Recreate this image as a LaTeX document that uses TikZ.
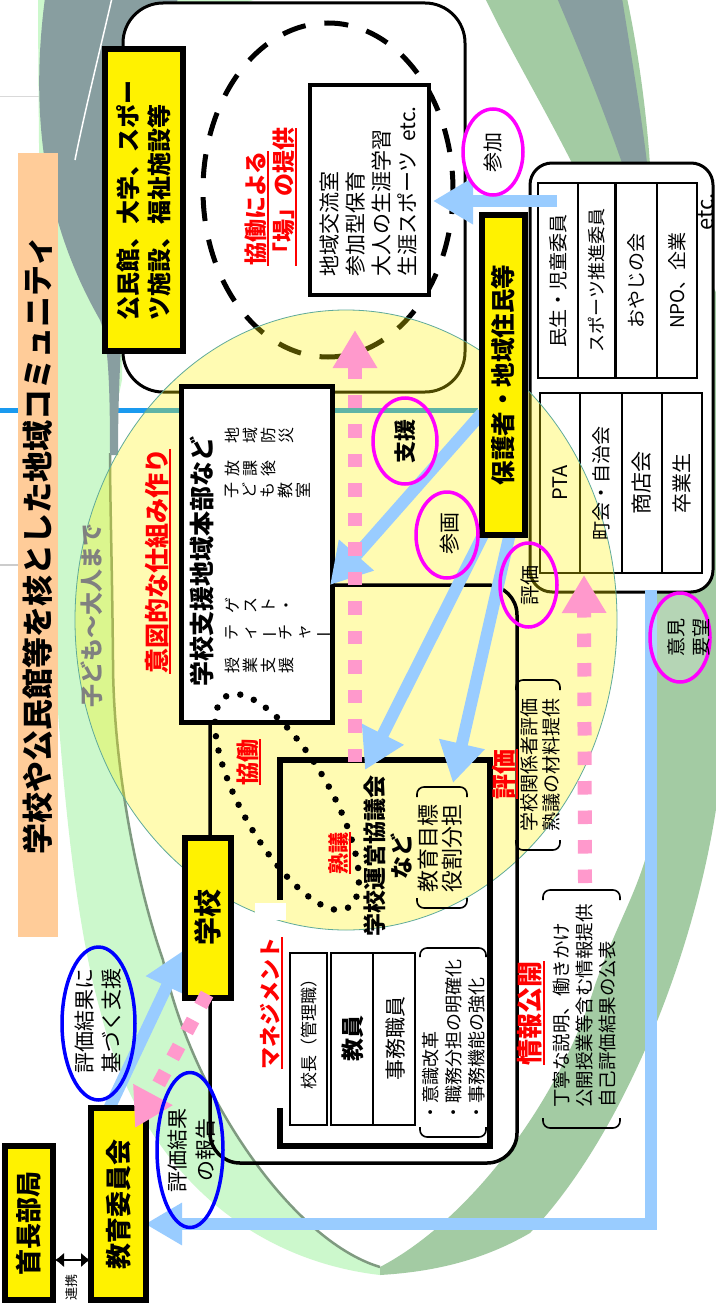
\documentclass[tikz,border=0pt]{standalone}
\usepackage{graphicx}
\usepackage{fontspec}
\setmainfont{Noto Sans CJK JP}
\usetikzlibrary{arrows.meta}
\definecolor{lgreen}{HTML}{CCF8CC}
\definecolor{dgreen}{HTML}{A3CBA3}
\definecolor{bgray}{HTML}{889EA0}
\definecolor{edgegray}{HTML}{7F9A80}
\definecolor{ltblue}{HTML}{99CCFF}
\definecolor{pinkc}{HTML}{FF99CC}
\definecolor{orangebg}{HTML}{FFCC99}
\definecolor{magc}{HTML}{FF00FF}
\definecolor{lineblue}{HTML}{1A9AEF}
\definecolor{circedge}{HTML}{5FAA9A}
\newcommand{\fsz}[2]{\fontsize{#1pt}{#2pt}\selectfont}
\newsavebox{\ulbox}
\newcommand{\ulx}[1]{\sbox{\ulbox}{#1}\leavevmode\rlap{\rule[-5pt]{\wd\ulbox}{2pt}}\usebox{\ulbox}}
\newcommand{\vch}{\rotatebox[origin=c]{90}{ー}}
\tikzset{
  T/.style={rotate=90, inner sep=0pt, align=center},
  ybx/.style={T, draw=black, line width=6pt, fill=yellow},
  magel/.style={draw=magc, line width=3.5pt},
  blel/.style={draw=blue, line width=3.5pt},
  barrow/.style={draw=ltblue, line width=12pt, -{Triangle[length=40pt,width=44pt]}},
  parrow/.style={draw=pinkc, line width=14pt, dash pattern=on 13.5pt off 16pt, -{Triangle[length=38pt,width=42pt]}},
  brk/.style={line width=1.6pt, rounded corners=7pt},
  cell/.style={draw=black, line width=2pt},
  vcol/.style={rotate=90, inner sep=0pt, anchor=north, align=center, font=\fsz{16}{18}},
}
\begin{document}
\begin{tikzpicture}[x=1pt,y=-1pt]
\useasboundingbox (0,0) rectangle (715,1303);
\fill[white] (0,0) rectangle (715,1303);
\draw[gray!30, line width=1pt] (0,97) -- (40,97);
\draw[gray!40, line width=1.5pt] (0,565) -- (110,565);
\draw[lineblue, line width=5pt] (0,410) -- (478,410);
% ---- background bands
\fill[lgreen] (38,-2) .. controls (40,500) and (55,850) .. (100,1010)
  .. controls (140,1170) and (250,1260) .. (380,1275)
  -- (380,1267) .. controls (290,1240) and (190,1090) .. (163,960)
  .. controls (135,880) and (113,760) .. (113,660)
  .. controls (112,560) and (110,500) .. (110,453)
  .. controls (112,420) and (118,400) .. (122,380)
  -- (125,40) -- (260,-2) -- cycle;
\draw[edgegray, line width=2.5pt] (380,1267) .. controls (290,1240) and (190,1090) .. (163,960)
  .. controls (135,880) and (113,760) .. (113,660)
  .. controls (112,560) and (110,500) .. (110,453);
\fill[bgray] (45,-2) -- (178,-2) .. controls (150,100) and (118,250) .. (118,455)
  -- (110,455) .. controls (110,380) and (108,340) .. (100,320)
  .. controls (60,250) and (25,150) .. (45,-2) -- cycle;
\draw[white, line width=1.5pt] (112,-2) .. controls (100,50) and (85,110) .. (75,160);
\fill[dgreen] (485,-2) -- (627,-2) .. controls (640,60) and (647,120) .. (650,165)
  -- (720,300) -- (720,780) .. controls (700,950) and (620,1140) .. (530,1233)
  .. controls (480,1262) and (430,1272) .. (380,1275)
  -- (380,1267) .. controls (470,1220) and (560,1100) .. (595,985)
  .. controls (625,900) and (655,870) .. (657,780) -- (657,590) -- (600,300) -- (573,165)
  .. controls (540,100) and (510,50) .. (485,-2) -- cycle;
\fill[bgray] (557,-2) -- (622,-2) .. controls (632,60) and (642,120) .. (647,163)
  -- (622,163) .. controls (600,100) and (575,40) .. (557,-2) -- cycle;
% ---- title
\node[T, fill=orangebg, minimum width=784pt, minimum height=40pt, font=\bfseries\fsz{31}{31}] (title) at (38,545) {学校や公民館等を核とした地域コミュニティ};
% ---- top rounded box
\draw[line width=3pt, fill=white, rounded corners=40pt] (123,3) rectangle (465,392);
\draw[line width=5pt, dash pattern=on 24pt off 19pt] (328,190) ellipse [x radius=125, y radius=167];
\node[T, draw=black, line width=4pt, fill=white, minimum width=209.5pt, minimum height=119.5pt] (koryu) at (369.25,189.75) {};
% ---- etc box
\draw[line width=3pt, fill=white, rounded corners=22pt] (530,163) rectangle (713,592);
\draw[cell] (538,183) rectangle (697,378);
\draw[cell] (578,183) -- (578,378);
\draw[line width=3pt] (615,183) -- (615,378);
\draw[cell] (657,183) -- (657,378);
\draw[cell] (540,393) rectangle (702,573);
\draw[cell] (580,393) -- (580,573);
\draw[cell] (622,393) -- (622,573);
\draw[cell] (662,393) -- (662,573);
% ---- yellow circle
\draw[circedge, line width=0.8pt, fill=yellow, fill opacity=0.3] (346,620) ellipse [x radius=271, y radius=310];
% ---- school frame
\draw[line width=3.5pt, rounded corners=30pt] (210,585) rectangle (517,1163);
\node[T, draw=black, line width=5pt, fill=white, minimum width=336pt, minimum height=151pt] (honbu) at (257,554.5) {};
\draw[line width=6pt] (280,900) -- (280,760) -- (490,760) -- (490,1146) -- (280,1146) -- (280,1108);
\fill[white] (255,903) rectangle (286,920);
\draw[cell] (290,953) rectangle (327,1125);
\draw[cell] (331,953) rectangle (415,1125);
\draw[cell] (373,953) -- (373,1125);
% brackets
\draw[brk] (417,797) -- (417,787) -- (467,787) -- (467,797);
\draw[brk] (417,898) -- (417,908) -- (467,908) -- (467,898);
\draw[brk] (420,957) -- (420,948) -- (486,948) -- (486,957);
\draw[brk] (420,1127) -- (420,1137) -- (486,1137) -- (486,1127);
\draw[brk] (516,690) -- (516,680) -- (560,680) -- (560,690);
\draw[brk] (516,840) -- (516,850) -- (560,850) -- (560,840);
\draw[brk] (543,900) -- (543,890) -- (620,890) -- (620,900);
\draw[brk] (543,1118) -- (543,1128) -- (620,1128) -- (620,1118);
% ---- blue arrows
\coordinate (a1s) at (557,201); \coordinate (a1e) at (433,201);
\coordinate (shs) at (482,413); \coordinate (she) at (330,585);
\coordinate (sks) at (484,533); \coordinate (ske) at (365,770);
\coordinate (hks) at (510,533); \coordinate (hke) at (453,783);
\coordinate (ls) at (651,590); \coordinate (lc) at (651,1224); \coordinate (le) at (145,1224);
\coordinate (ds) at (107,1113); \coordinate (de) at (184,950);
\draw[barrow] (a1s) -- (a1e);
\draw[barrow] (shs) -- (she);
\draw[barrow] (sks) -- (ske);
\draw[barrow] (hks) -- (hke);
\draw[barrow, -{Triangle[length=37pt,width=40pt]}] (ls) -- (lc) -- (le);
\draw[barrow] (ds) -- (de);
% ---- yellow boxes
\node[ybx, minimum width=301pt, minimum height=77.5pt, align=left, font=\bfseries\fsz{24}{31}] (kominkan) at (143.75,200) {公民館、大学、スポー\\ツ施設、福祉施設等};
\node[ybx, minimum width=320pt, minimum height=43pt, font=\bfseries\fsz{24.5}{24.5}] (hogosha) at (503.5,375) {保護者・地域住民等};
\node[ybx, minimum width=160pt, minimum height=46pt, font=\bfseries\fsz{28}{28}] (gakko) at (207.5,917.5) {学校};
\node[ybx, minimum width=192pt, minimum height=55pt, font=\bfseries\fsz{26}{26}] (kyoiku) at (118.5,1204) {教育委員会};
\node[ybx, minimum width=154pt, minimum height=48.5pt, font=\bfseries\fsz{26}{26}] (shucho) at (28.75,1223) {首長部局};
% ---- dotted loop
\draw[line width=6.5pt, dash pattern=on 0pt off 14.5pt, line cap=round, rotate around={-60:(287,802)}] (287,802) ellipse [x radius=122, y radius=44];
% ---- pink arrows
\coordinate (p1s) at (355,762); \coordinate (p1e) at (355,330);
\coordinate (p2s) at (585,883); \coordinate (p2e) at (584,575);
\coordinate (p3s) at (207,994); \coordinate (p3e) at (135,1128);
\draw[parrow] (p1s) -- (p1e);
\draw[parrow] (p2s) -- (p2e);
\draw[parrow] (p3s) -- (p3e);
% ---- ellipses
\draw[magel, fill=white] (493,152) ellipse [x radius=30, y radius=43];
\draw[magel] (405,441) ellipse [x radius=32, y radius=43];
\draw[magel] (447,535) ellipse [x radius=31, y radius=43];
\draw[magel] (528.5,585) ellipse [x radius=28.5, y radius=42];
\draw[magel, fill=white, fill opacity=0.2] (680,637.5) ellipse [x radius=30, y radius=44.5];
\draw[blel] (98.5,1023.5) ellipse [x radius=36.5, y radius=76.5];
\draw[blel] (190,1150) ellipse [x radius=33, y radius=77.5];
% ---- texts
\node[T, anchor=west, align=left, font=\fsz{21}{26}] (koryutxt) at (369,277) {地域交流室\\参加型保育\\大人の生涯学習\\生涯スポーツ\ \ etc.};
\node[T, anchor=west, align=left, text=red, font=\bfseries\fsz{23}{28}] (ba) at (271,266) {\ulx{協働による}\\\ulx{「場」の提供}};
\node[T, font=\fsz{20}{20}] (sanka) at (493,152) {参加};
\node[T, font=\bfseries\fsz{22}{22}] (shien) at (405,441) {支援};
\node[T, font=\fsz{21}{21}] (sankaku) at (450,533) {参画};
\node[T, font=\fsz{20}{20}] (hyoka) at (530,585) {評価};
\node[T, font=\fsz{19}{25}] (iken) at (689,637) {意見\\要望};
\node[T, font=\fsz{19}{19}] (c1) at (558,280.5) {民生・児童委員};
\node[T, font=\fsz{18}{18}] (c2) at (596.5,280.5) {スポーツ推進委員};
\node[T, font=\fsz{19}{19}] (c3) at (636,280.5) {おやじの会};
\node[T, font=\fsz{19}{19}] (c4) at (677,280.5) {NPO、企業};
\node[T, font=\fsz{22}{22}] (etc) at (706,212) {etc.};
\node[T, font=\fsz{20}{20}] (c5) at (560,483) {PTA};
\node[T, font=\fsz{19}{19}] (c6) at (601,483) {町会・自治会};
\node[T, font=\fsz{21}{21}] (c7) at (642,483) {商店会};
\node[T, font=\fsz{20}{20}] (c8) at (682,483) {卒業生};
\node[T, font=\bfseries\fsz{25}{25}] (honbutxt) at (202,561) {学校支援地域本部など};
\node[T, text=red, font=\bfseries\fsz{25}{25}] (ito) at (158,561) {\ulx{意図的な仕組み作り}};
\node[T, text=gray, font=\bfseries\fsz{23}{23}] (kodomo) at (92,615) {子ども～大人まで};
\node[vcol] (v1) at (225,435) {地\\域\\防\\災};
\node[vcol] (v2) at (225,468) {放\\課\\後};
\node[vcol] (v3) at (225,490) {子\\ど\\も\\教\\室};
\node[vcol] (v4) at (225,605) {ゲ\\ス\\ト\\・};
\node[vcol] (v5) at (225,632) {テ\\ィ\\\vch\\チ\\ャ\\\vch};
\node[vcol] (v6) at (225,665) {授\\業\\支\\援};
\node[T, text=red, font=\bfseries\fsz{23}{23}] (kyodo) at (249,762) {\ulx{協働}};
\node[T, text=red, font=\bfseries\fsz{21}{21}] (jukugi) at (340,853) {\ulx{熟議}};
\node[T, font=\bfseries\fsz{23}{27}] (unei) at (387.5,856) {学校運営協議会\\など};
\node[T, font=\fsz{22}{24}] (mokuhyo) at (440,848) {教育目標\\役割分担};
\node[T, text=red, font=\bfseries\fsz{22}{22}] (mane) at (271.5,1003) {\ulx{マネジメント}};
\node[T, font=\fsz{17}{17}] (kocho) at (309,1030) {校長（管理職）};
\node[T, font=\bfseries\fsz{23}{23}] (kyoin) at (353,1038) {教員};
\node[T, font=\fsz{21}{21}] (jimu) at (396,1038) {事務職員};
\node[T, anchor=west, align=left, font=\fsz{18}{23}] (kaikaku) at (454,1122) {・意識改革\\・職務分担の明確化\\・事務機能の強化};
\node[T, text=red, font=\bfseries\fsz{25}{25}] (hyokar) at (505,774) {\ulx{評価}};
\node[T, align=left, font=\fsz{19}{22}] (kankei) at (540,765) {学校関係者評価\\熟議の材料提供};
\node[T, text=red, font=\bfseries\fsz{26}{26}] (joho) at (531,1013) {\ulx{情報公開}};
\node[T, anchor=west, align=left, font=\fsz{18.5}{23}] (teinei) at (584,1108) {丁寧な説明、働きかけ\\公開授業等含む情報提供\\自己評価結果の公表};
\node[T, font=\fsz{21}{27}] (kekka1) at (98.5,1021) {評価結果に\\基づく支援};
\node[T, font=\fsz{21}{28}] (kekka2) at (192,1150) {評価結果\\の報告};
% ---- renkei
\coordinate (r1) at (55,1260); \coordinate (r2) at (90,1260);
\draw[line width=2.5pt, {Latex[length=9pt,width=15pt]}-{Latex[length=9pt,width=15pt]}] (r1) -- (r2);
\node[T, font=\fsz{13}{13}] (renkei) at (72,1287) {連携};
\end{tikzpicture}
\end{document}
